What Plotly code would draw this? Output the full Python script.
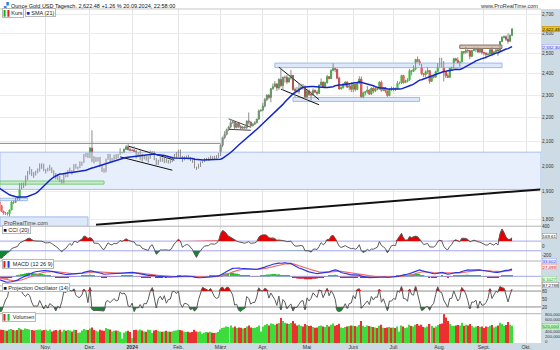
import numpy as np
import pandas as pd
import plotly.graph_objects as go

W, H = 560, 350

# ---------------- daily spot gold, USD/oz ----------------
dates = pd.bdate_range("2023-09-01", "2024-09-20")

opens = [
    1940, 1940, 1939, 1926, 1916, 1919, 1919, 1922, 1913, 1908, 1910, 1924, 1934, 1931, 1930, 1920, 1925, 1916, 1901, 1875, 1864,
    1849, 1828, 1822, 1822, 1820, 1833, 1862, 1861, 1874, 1868, 1932, 1920, 1923, 1947, 1974, 1981, 1973, 1970, 1979, 1985, 2006, 1996,
    1983, 1983, 1985, 1992, 1978, 1970, 1950, 1958, 1940, 1946, 1963, 1959, 1981, 1981, 1978, 1998, 1990, 1992, 2002, 2014, 2041, 2044,
    2036, 2072, 2029, 2019, 2025, 2028, 2004, 1982, 1980, 2027, 2036, 2019, 2027, 2040, 2031, 2046, 2053, 2053, 2067, 2077, 2065,
    2063, 2063, 2058, 2042, 2043, 2045, 2027, 2030, 2024, 2029, 2049, 2055, 2029, 2006, 2023, 2029, 2022, 2029, 2014, 2020, 2018, 2032, 2037,
    2039, 2054, 2039, 2025, 2035, 2035, 2034, 2024, 2020, 1993, 1992, 2004, 2013, 2017, 2025, 2025, 2024, 2035, 2031, 2030, 2034,
    2044, 2083, 2115, 2128, 2148, 2160, 2179, 2182, 2158, 2175, 2162, 2155, 2160, 2157, 2186, 2181, 2165, 2172, 2178, 2194, 2230,
    2233, 2251, 2280, 2300, 2290, 2330, 2339, 2352, 2333, 2373, 2344, 2383, 2383, 2361, 2379, 2392, 2327, 2322, 2316, 2332, 2337, 2335,
    2286, 2320, 2303, 2301, 2322, 2314, 2309, 2346, 2360, 2336, 2358, 2386, 2377, 2415, 2425, 2421, 2379, 2329, 2334, 2351, 2361, 2337, 2343,
    2327, 2350, 2327, 2355, 2375, 2293, 2311, 2316, 2324, 2305, 2333, 2319, 2330, 2328, 2360, 2322, 2334, 2319, 2298, 2327,
    2326, 2332, 2330, 2356, 2356, 2392, 2358, 2364, 2371, 2415, 2411, 2422, 2469, 2459, 2445, 2400, 2396, 2409, 2415, 2364, 2387, 2384, 2410,
    2447, 2446, 2443, 2409, 2390, 2383, 2427, 2431, 2472, 2465, 2447, 2456, 2507, 2504, 2513, 2512, 2484, 2512, 2518, 2525, 2505, 2521,
    2503, 2500, 2493, 2495, 2517, 2497, 2506, 2516, 2512, 2558, 2578, 2582, 2569, 2559, 2589.85,
]
highs = [
    1953, 1943, 1941, 1929, 1923, 1928, 1930, 1925, 1915, 1915, 1928, 1937, 1936, 1947, 1932, 1930, 1926, 1917, 1903, 1879, 1880,
    1850, 1831, 1826, 1825, 1834, 1865, 1867, 1877, 1885, 1933, 1934, 1935, 1962, 1980, 1997, 1987, 1976, 1981, 1990, 2010, 2010, 2009,
    1988, 1993, 2004, 1994, 1983, 1972, 1965, 1961, 1948, 1971, 1972, 1984, 1993, 1983, 2007, 2008, 1997, 2018, 2017, 2048, 2052, 2052,
    2075, 2146, 2039, 2035, 2035, 2036, 2006, 1990, 2029, 2048, 2048, 2032, 2045, 2047, 2048, 2071, 2056, 2070, 2084, 2088, 2075,
    2065, 2079, 2065, 2055, 2064, 2049, 2041, 2040, 2039, 2062, 2059, 2057, 2031, 2024, 2036, 2033, 2031, 2037, 2024, 2026, 2037, 2048, 2056,
    2065, 2066, 2040, 2038, 2041, 2044, 2036, 2027, 2032, 1997, 2008, 2017, 2019, 2031, 2032, 2034, 2041, 2039, 2040, 2043, 2052,
    2088, 2119, 2142, 2153, 2165, 2195, 2189, 2185, 2178, 2176, 2168, 2163, 2163, 2187, 2223, 2183, 2176, 2185, 2195, 2236, 2236,
    2266, 2288, 2305, 2305, 2331, 2354, 2365, 2355, 2378, 2431, 2386, 2392, 2395, 2385, 2418, 2395, 2335, 2338, 2352, 2353, 2353, 2346,
    2326, 2327, 2319, 2331, 2326, 2323, 2351, 2378, 2364, 2363, 2395, 2387, 2422, 2450, 2427, 2423, 2386, 2340, 2356, 2364, 2364, 2351, 2361,
    2354, 2353, 2359, 2388, 2387, 2316, 2317, 2342, 2327, 2335, 2335, 2336, 2334, 2365, 2368, 2335, 2336, 2321, 2331, 2340,
    2338, 2334, 2365, 2363, 2393, 2393, 2372, 2379, 2424, 2418, 2440, 2469, 2483, 2470, 2447, 2403, 2416, 2431, 2418, 2391, 2392, 2414, 2451,
    2477, 2477, 2461, 2410, 2401, 2430, 2434, 2477, 2477, 2479, 2459, 2509, 2510, 2531, 2525, 2514, 2516, 2527, 2526, 2528, 2524, 2525,
    2506, 2503, 2503, 2523, 2529, 2508, 2518, 2518, 2560, 2586, 2589, 2589, 2600, 2593, 2625,
]
lows = [
    1936, 1936, 1922, 1915, 1914, 1915, 1916, 1908, 1905, 1901, 1909, 1922, 1927, 1927, 1913, 1915, 1911, 1899, 1874, 1858, 1846,
    1825, 1816, 1815, 1813, 1810, 1832, 1854, 1858, 1867, 1867, 1909, 1914, 1922, 1944, 1966, 1960, 1953, 1962, 1971, 1978, 1988, 1979,
    1970, 1978, 1981, 1972, 1958, 1947, 1945, 1937, 1931, 1932, 1955, 1956, 1977, 1966, 1975, 1989, 1986, 1991, 2000, 2012, 2035, 2031,
    2031, 2015, 2010, 2016, 2018, 1996, 1976, 1973, 1975, 2024, 2015, 2016, 2024, 2027, 2030, 2044, 2050, 2051, 2065, 2062, 2058,
    2061, 2057, 2030, 2035, 2024, 2017, 2026, 2021, 2013, 2028, 2047, 2023, 2002, 2004, 2016, 2016, 2011, 2012, 2009, 2010, 2015, 2028, 2031,
    2035, 2033, 2015, 2022, 2030, 2026, 2019, 2012, 1990, 1984, 1989, 1996, 2011, 2015, 2021, 2020, 2022, 2026, 2025, 2025, 2031,
    2039, 2076, 2109, 2124, 2143, 2154, 2174, 2150, 2154, 2155, 2152, 2149, 2146, 2151, 2170, 2157, 2162, 2170, 2176, 2191, 2226,
    2228, 2245, 2273, 2281, 2268, 2325, 2337, 2319, 2325, 2336, 2324, 2358, 2352, 2359, 2372, 2320, 2292, 2311, 2305, 2328, 2325, 2285,
    2278, 2296, 2277, 2298, 2310, 2300, 2306, 2344, 2334, 2336, 2353, 2373, 2375, 2412, 2407, 2374, 2325, 2326, 2331, 2340, 2334, 2322, 2314,
    2314, 2317, 2323, 2351, 2287, 2287, 2299, 2308, 2301, 2302, 2309, 2314, 2322, 2327, 2316, 2318, 2309, 2293, 2296, 2319,
    2318, 2319, 2327, 2350, 2351, 2353, 2356, 2359, 2367, 2392, 2409, 2416, 2455, 2440, 2393, 2384, 2385, 2399, 2353, 2363, 2378, 2380, 2406,
    2430, 2431, 2364, 2380, 2381, 2381, 2414, 2422, 2458, 2450, 2433, 2455, 2493, 2496, 2500, 2470, 2480, 2510, 2506, 2502, 2500, 2493,
    2488, 2472, 2487, 2490, 2485, 2490, 2500, 2486, 2508, 2555, 2574, 2560, 2547, 2557, 2584,
]
closes = [
    1940, 1939, 1926, 1916, 1919, 1919, 1922, 1913, 1908, 1910, 1924, 1934, 1931, 1930, 1920, 1925, 1916, 1901, 1875, 1864, 1849,
    1828, 1822, 1822, 1820, 1833, 1862, 1861, 1874, 1868, 1932, 1920, 1923, 1947, 1974, 1981, 1973, 1970, 1979, 1985, 2006, 1996, 1983,
    1983, 1985, 1992, 1978, 1970, 1950, 1958, 1940, 1946, 1963, 1959, 1981, 1981, 1978, 1998, 1990, 1992, 2002, 2014, 2041, 2044, 2036,
    2072, 2029, 2019, 2025, 2028, 2004, 1982, 1980, 2027, 2036, 2019, 2027, 2040, 2031, 2046, 2053, 2053, 2067, 2077, 2065, 2063,
    2063, 2058, 2042, 2043, 2045, 2027, 2030, 2024, 2029, 2049, 2055, 2029, 2006, 2023, 2029, 2022, 2029, 2014, 2020, 2018, 2032, 2037, 2039,
    2054, 2039, 2025, 2035, 2035, 2034, 2024, 2020, 1993, 1992, 2004, 2013, 2017, 2025, 2025, 2024, 2035, 2031, 2030, 2034, 2044,
    2083, 2115, 2128, 2148, 2160, 2179, 2182, 2158, 2175, 2162, 2155, 2160, 2157, 2186, 2181, 2165, 2172, 2178, 2194, 2230, 2233,
    2251, 2280, 2300, 2290, 2330, 2339, 2352, 2333, 2373, 2344, 2383, 2383, 2361, 2379, 2392, 2327, 2322, 2316, 2332, 2337, 2335, 2286,
    2320, 2303, 2301, 2322, 2314, 2309, 2346, 2360, 2336, 2358, 2386, 2377, 2415, 2425, 2421, 2379, 2329, 2334, 2351, 2361, 2337, 2343, 2327,
    2350, 2327, 2355, 2375, 2293, 2311, 2316, 2324, 2305, 2333, 2319, 2330, 2328, 2360, 2322, 2334, 2319, 2298, 2327, 2326,
    2332, 2330, 2356, 2356, 2392, 2358, 2364, 2371, 2415, 2411, 2422, 2469, 2459, 2445, 2400, 2396, 2409, 2415, 2364, 2387, 2384, 2410, 2447,
    2446, 2443, 2409, 2390, 2383, 2427, 2431, 2472, 2465, 2447, 2456, 2507, 2504, 2513, 2512, 2484, 2512, 2518, 2525, 2505, 2521, 2503,
    2500, 2493, 2495, 2517, 2497, 2506, 2516, 2512, 2558, 2578, 2582, 2569, 2559, 2589.85, 2622.48,
]
# traded volume, thousands
volume_k = [
    340, 350, 380, 370, 350, 340, 330, 350, 370, 380, 350, 330, 340, 390, 380, 350, 340, 370, 420, 440, 410,
    400, 390, 380, 370, 410, 420, 390, 380, 390, 450, 410, 390, 440, 420, 410, 390, 380, 390, 400, 410, 380, 390,
    400, 370, 410, 350, 380, 390, 370, 400, 340, 400, 370, 390, 380, 350, 400, 390, 300, 320, 380, 420, 400, 390,
    440, 470, 390, 370, 350, 400, 380, 370, 450, 420, 410, 350, 370, 380, 370, 340, 140, 310, 350, 370, 330,
    150, 390, 400, 380, 410, 380, 350, 340, 400, 390, 300, 380, 390, 370, 350, 340, 350, 370, 350, 340, 350, 370, 380,
    400, 390, 380, 340, 330, 340, 320, 330, 400, 350, 340, 350, 280, 310, 330, 320, 340, 310, 300, 310, 330,
    410, 450, 470, 500, 480, 530, 470, 500, 450, 470, 460, 440, 450, 500, 530, 470, 450, 460, 480, 530, 350,
    500, 540, 570, 530, 590, 570, 550, 580, 600, 750, 660, 610, 590, 570, 600, 660, 590, 530, 550, 520, 500, 570,
    540, 510, 520, 480, 460, 470, 510, 530, 500, 480, 540, 500, 550, 590, 520, 540, 580, 470, 450, 480, 500, 510, 530,
    520, 510, 500, 540, 660, 520, 480, 530, 510, 500, 480, 470, 450, 520, 550, 460, 450, 470, 480, 460,
    470, 450, 500, 350, 530, 500, 450, 470, 550, 510, 500, 550, 570, 520, 550, 480, 470, 500, 570, 510, 460, 500, 540,
    570, 590, 870, 770, 660, 570, 510, 520, 530, 540, 530, 610, 520, 550, 530, 570, 510, 470, 500, 510, 480, 500,
    450, 500, 480, 520, 540, 470, 500, 530, 610, 570, 510, 540, 630, 550, 520,
]

# month axis labels (Nov 2023 .. Oct 2024)
month_labels = ["Nov.", "Dez.", "<b>2024</b>", "Feb.", "März", "Apr.", "Mai", "Juni", "Juli", "Aug.", "Sept.", "Okt."]
price_ticks = [1800, 1900, 2000, 2100, 2200, 2300, 2400, 2500, 2600, 2700]
cci_ticks = [-200, 0, 400]
po_ticks = [20, 50, 80]
vol_ticks = [0, 200000, 400000, 600000, 800000]

# drawn zones: (from, to, low, high, kind)
zone_from = [None, None, None, None, "2024-04-09", "2024-04-22", "2024-08-15"]
zone_to = [None, "2023-12-12", "2023-10-19", "2023-11-30", "2024-09-13", "2024-07-18", "2024-09-13"]
zone_low = [1909, 1929, 1867, 1740, 2429, 2272, 2523]
zone_high = [2055, 1941, 1876, 1808, 2451, 2290, 2540]
zone_kind = ["wide", "green", "blue", "blue", "blue", "blue", "tan"]
# horizontal resistance
resist_level = 2091
resist_to = "2024-03-01"
# trend lines: (date0, price0, date1, price1, width)
trend_d0 = ["2023-12-06", "2023-12-28", "2023-12-22", "2024-03-07", "2024-03-07", "2024-04-11", "2024-04-12"]
trend_p0 = [1780, 2080, 2036, 2195, 2150, 2431, 2328]
trend_d1 = ["2024-10-10", "2024-01-30", "2024-01-29", "2024-03-22", "2024-03-22", "2024-05-09", "2024-05-09"]
trend_p1 = [1909, 2023, 1983, 2159, 2146, 2280, 2257]
trend_w = [2, 1, 1, 0.8, 0.8, 1, 1]

for arr in (opens, highs, lows, closes, volume_k):
    assert len(arr) == len(dates), len(arr)

# ---------------- indicators ----------------
df = pd.DataFrame(dict(o=opens, h=highs, l=lows, c=closes,
                       v=np.array(volume_k) * 1000), index=dates)

cal = pd.bdate_range("2023-10-02", "2024-10-31")   # bar calendar incl. future axis space
n0 = dates.get_loc(cal[0])
xs = np.arange(len(df)) - n0


def bar_pos(d):
    return cal.get_loc(pd.Timestamp(d))


sma = df.c.rolling(21).mean()
tp = (df.h + df.l + df.c) / 3
tp_ma = tp.rolling(20).mean()
tp_md = tp.rolling(20).apply(lambda s: np.mean(np.abs(s - s.mean())), raw=True)
cci = (tp - tp_ma) / (0.015 * tp_md)
ema12 = df.c.ewm(span=12, adjust=False).mean()
ema26 = df.c.ewm(span=26, adjust=False).mean()
macd = ema12 - ema26
signal = macd.ewm(span=9, adjust=False).mean()
hist = macd - signal


def projection_oscillator(h, l, c, n=14):
    out = np.full(len(c), np.nan)
    k = np.arange(n)
    steps = (n - 1) - k
    for t in range(n - 1, len(c)):
        hh, ll = h[t - n + 1:t + 1], l[t - n + 1:t + 1]
        mh = np.polyfit(k, hh, 1)[0]
        ml = np.polyfit(k, ll, 1)[0]
        upper = np.max(hh + mh * steps)
        lower = np.min(ll + ml * steps)
        out[t] = 100 * (c[t] - lower) / (upper - lower)
    return out


po = projection_oscillator(df.h.values.astype(float), df.l.values.astype(float), df.c.values.astype(float))

# ---------------- layout geometry ----------------
X_RANGE = [-0.75, 268.4]
X_DOM = [0, 541 / W]
PANES = {"main": (7, 225.5), "cci": (225.5, 260.5), "macd": (260.5, 285.5),
         "po": (285.5, 313.5), "vol": (313.5, 343)}
AX = {"main": "", "cci": "2", "macd": "3", "po": "4", "vol": "5"}


def fy(px):
    return 1 - px / H


vis = xs >= -1
x_v = xs[vis]

fig = go.Figure()


def add(tr, pane):
    tr.update(xaxis="x" + AX[pane], yaxis="y" + AX[pane], hoverinfo="skip", showlegend=False)
    fig.add_trace(tr)


# ---- main pane: zones, lines, candles, SMA
zone_style = {
    "wide": ("#e8effc", "#a9c0ee"),
    "green": ("#c6eec6", "#7cc87c"),
    "blue": ("#dde8fb", "#9fb9ec"),
    "tan": ("#d8c5ba", "#8a6f62"),
}
for d0, d1, lo, hi, kind in zip(zone_from, zone_to, zone_low, zone_high, zone_kind):
    x0 = X_RANGE[0] if d0 is None else bar_pos(d0)
    x1 = X_RANGE[1] if d1 is None else bar_pos(d1)
    fill, edge = zone_style[kind]
    add(go.Scatter(x=[x0, x1, x1, x0, x0], y=[lo, lo, hi, hi, lo], mode="lines",
                   fill="toself", fillcolor=fill, line=dict(color=edge, width=1)), "main")

add(go.Scatter(x=[X_RANGE[0], bar_pos(resist_to)], y=[resist_level, resist_level], mode="lines",
               line=dict(color="#8a8a8a", width=1)), "main")

for d0, p0, d1, p1, w in zip(trend_d0, trend_p0, trend_d1, trend_p1, trend_w):
    add(go.Scatter(x=[bar_pos(d0), bar_pos(d1)], y=[p0, p1], mode="lines",
                   line=dict(color="#111111", width=w)), "main")

o, h, l, c = (df[k].values[vis] for k in "ohlc")
nan = np.full(len(x_v), np.nan)
add(go.Scatter(x=np.column_stack([x_v, x_v, nan]).ravel(),
               y=np.column_stack([l, h, nan]).ravel(), mode="lines",
               line=dict(color="#8c8c8c", width=1)), "main")
add(go.Candlestick(x=x_v, open=o, close=c, high=np.maximum(o, c), low=np.minimum(o, c),
                   increasing=dict(line=dict(color="#1fae1f", width=1), fillcolor="#2fd22f"),
                   decreasing=dict(line=dict(color="#d81c1c", width=1), fillcolor="#ee2a2a"),
                   whiskerwidth=0), "main")
add(go.Scatter(x=x_v, y=sma.values[vis], mode="lines", line=dict(color="#1226c8", width=1.5)), "main")


# ---- oscillator helpers
def hline(level, color, pane, width=1):
    add(go.Scatter(x=X_RANGE, y=[level, level], mode="lines", line=dict(color=color, width=width)), pane)


def band(y, level, above, color, pane):
    clipped = np.maximum(y, level) if above else np.minimum(y, level)
    add(go.Scatter(x=x_v, y=np.full(len(x_v), level), mode="lines", line=dict(width=0)), pane)
    add(go.Scatter(x=x_v, y=clipped, mode="lines", line=dict(width=0),
                   fill="tonexty", fillcolor=color), pane)


RED, GREEN = "#e60000", "#0f8a2a"

# ---- CCI
cci_v = cci.values[vis]
hline(100, "#a4a4f4", "cci")
hline(-100, "#a4a4f4", "cci")
band(cci_v, 100, True, RED, "cci")
band(cci_v, -100, False, GREEN, "cci")
add(go.Scatter(x=x_v, y=cci_v, mode="lines", line=dict(color="#5a5a5a", width=1)), "cci")

# ---- MACD
hist_v = hist.values[vis]
hline(0, "#a4a4f4", "macd")
add(go.Bar(x=x_v, y=hist_v, marker=dict(color=np.where(hist_v >= 0, "#22c022", "#e02020"), line=dict(width=0))), "macd")
add(go.Scatter(x=x_v, y=signal.values[vis], mode="lines", line=dict(color="#f07070", width=1.2)), "macd")
add(go.Scatter(x=x_v, y=macd.values[vis], mode="lines", line=dict(color="#2a36e6", width=1.2)), "macd")

# ---- Projection oscillator
po_v = po[vis]
hline(80, "#8a8a8a", "po")
hline(20, "#8a8a8a", "po")
band(po_v, 80, True, RED, "po")
band(po_v, 20, False, GREEN, "po")
add(go.Scatter(x=x_v, y=po_v, mode="lines", line=dict(color="#5a5a5a", width=1)), "po")

# ---- Volume
vol_v = df.v.values[vis]
add(go.Bar(x=x_v, y=vol_v, marker=dict(color=np.where(c >= o, "#3ddc3d", "#ec3030"), line=dict(width=0))), "vol")

# ---------------- axes ----------------
month_pos = [cal.get_loc(g.index[0]) for _, g in cal.to_series().groupby([cal.year, cal.month])][1:]
TICK_FONT = dict(size=4.6, color="#333333")
layout = dict(
    width=W, height=H, margin=dict(l=0, r=0, t=0, b=0),
    paper_bgcolor="white", plot_bgcolor="white", showlegend=False, bargap=0.35,
    font=dict(family="Liberation Sans, Arial, sans-serif", size=6, color="#333333"),
)
y_specs = {
    "main": dict(type="log", range=[np.log10(1775), np.log10(2728)], tickvals=price_ticks,
                 ticktext=[f"{v:,}" for v in price_ticks], showgrid=True, gridcolor="#ececec"),
    "cci": dict(range=[-312, 409], tickvals=cci_ticks, ticktext=[str(v) for v in cci_ticks], showgrid=False),
    "macd": dict(range=[-45, 72], showticklabels=False, showgrid=False),
    "po": dict(range=[-5.5, 99.6], tickvals=po_ticks, ticktext=[str(v) for v in po_ticks], showgrid=False),
    # volume scale labels are placed as notes below, nudged clear of the value flag
    "vol": dict(range=[0, 880000], tickvals=vol_ticks, showticklabels=False, showgrid=False),
}
for pane, (top, bot) in PANES.items():
    a = AX[pane]
    layout["xaxis" + a] = dict(domain=X_DOM, range=X_RANGE, anchor="y" + a, tickvals=month_pos,
                               ticktext=month_labels, showticklabels=(pane == "vol"), ticks="",
                               showgrid=True, gridcolor="#e4e4e4", zeroline=False, showline=False,
                               rangeslider=dict(visible=False), fixedrange=True,
                               tickfont=dict(size=5.2, color="#333"))
    ys = dict(domain=[fy(bot), fy(top)], anchor="x" + a, side="right", ticks="", zeroline=False,
              showline=False, fixedrange=True, tickfont=TICK_FONT)
    ys.update(y_specs[pane])
    layout["yaxis" + a] = ys
fig.update_layout(**layout)

# ---------------- frame: axis strips, pane separators ----------------
AXIS_BG = "#cddbe5"
shapes = [
    dict(type="rect", xref="paper", yref="paper", x0=541 / W, x1=1, y0=0, y1=fy(7),
         fillcolor=AXIS_BG, line=dict(width=0), layer="below"),
    dict(type="rect", xref="paper", yref="paper", x0=0, x1=1, y0=0, y1=fy(343),
         fillcolor=AXIS_BG, line=dict(width=0), layer="below"),
    dict(type="line", xref="paper", yref="paper", x0=0, x1=541 / W, y0=fy(7), y1=fy(7),
         line=dict(color="#c8c8c8", width=1)),
]
for pane in ("cci", "macd", "po", "vol"):
    yb = PANES[pane][0]
    shapes.append(dict(type="line", xref="paper", yref="paper", x0=0, x1=541 / W,
                       y0=fy(yb), y1=fy(yb), line=dict(color="#b4b4b4", width=1)))
fig.update_layout(shapes=shapes)

# ---------------- texts ----------------
ann = []


def text(x_px, y_px, s, size=6, color="#222", anchor="left", **kw):
    ann.append(dict(xref="paper", yref="paper", x=x_px / W, y=fy(y_px), text=s, showarrow=False,
                    xanchor=anchor, yanchor="middle", font=dict(size=size, color=color), **kw))


last, prev = closes[-1], closes[-2]
chg = (last / prev - 1) * 100
text(9, 3.6, f"Ounce Gold USD Tagesch. {last:,.2f} {chg:+.2f} % 20.09.2024, 22:58:00", size=5.5, color="#111")
text(1, 3.6, "<span style='color:#2a7de1'>▞</span>", size=6)
text(540, 4, "www.ProRealTime.com", size=5.5, color="#333", anchor="right")

box = dict(bgcolor="white", bordercolor="#b8b8b8", borderwidth=1, borderpad=0.5)
text(1.5, 11, "<span style='color:#18b018'>▌</span><span style='color:#e02020'>▌</span>Kurs", size=5.5, **box)
text(25, 11, "<span style='color:#1226c8'>■</span> SMA (21)", size=5.5, **box)
text(1.5, 228.7, "<span style='color:#111'>■</span> CCI (20)", size=5.5, **box)
text(1.5, 263.2, "<span style='color:#e02020'>▌</span><span style='color:#2a36e6'>▌</span> MACD (12 26 9)", size=5.5, **box)
text(1.5, 287.6, "<span style='color:#111'>■</span> Projection Oscillator (14)", size=5.5, **box)
text(1.5, 316.5, "<span style='color:#e02020'>▌</span><span style='color:#22c022'>▌</span> Volumen", size=5.5, **box)
text(2, 222.5, "ProRealTime.com", size=5.5, color="#444")


# value flags on the right scale
def flag(yref, yval, s, bg, fg, border="#888", shift=0):
    ann.append(dict(xref="paper", yref=yref, x=541.5 / W, y=yval, text=s, showarrow=False,
                    xanchor="left", yanchor="middle", font=dict(size=4.4, color=fg), yshift=shift,
                    bgcolor=bg, bordercolor=border, borderwidth=0.5, borderpad=0))


flag("y", np.log10(last), f"{last:,.2f}", "#f6c21a", "#111", "#b08a00")
flag("y", np.log10(sma.iloc[-1]), f"{sma.iloc[-1]:,.2f}", "#e8e8ff", "#1f2fd0", "#9fa8f0")
flag("y2", cci.iloc[-1], f"{cci.iloc[-1]:.2f}", "white", "#111", shift=2)
top_macd = max(macd.iloc[-1], signal.iloc[-1])
flag("y3", top_macd, f"{macd.iloc[-1]:.3f}", "#eef0ff", "#2a36e6", "#9fa8f0", shift=8)
flag("y3", top_macd, f"{signal.iloc[-1]:.3f}", "#ffecec", "#d02020", "#f0a0a0", shift=2)
flag("y3", hist.iloc[-1], f"{hist.iloc[-1]:.4f}", "#eaffea", "#119911", "#88cc88", shift=-4)
flag("y4", po[-1], f"{po[-1]:.4f}", "white", "#111", shift=4)
flag("y5", df.v.iloc[-1], f"{int(df.v.iloc[-1]):,}", "#c8f5c0", "#117711", "#7c7")

# volume scale labels, pushed apart around the flag
vol_nudge = [1.5, -0.5, -1.5, 3.5, 1.5]
for v, dy in zip(vol_ticks, vol_nudge):
    ann.append(dict(xref="paper", yref="y5", x=543 / W, y=v, text=f"{v:,}", showarrow=False,
                    xanchor="left", yanchor="middle", yshift=dy, font=dict(size=4.2, color="#333")))
fig.update_layout(annotations=ann)

fig.write_html("out.html")
